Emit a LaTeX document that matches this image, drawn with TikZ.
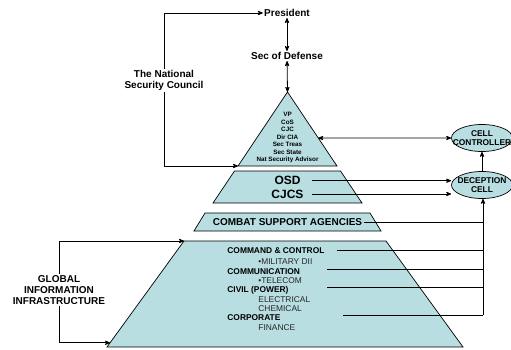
\documentclass[tikz,border=0pt]{standalone}
\usepackage{fontspec}
\setmainfont{Liberation Sans}
\usetikzlibrary{shapes,shapes.geometric,arrows,calc,positioning}

\definecolor{layerfill}{RGB}{184,222,226}

\begin{document}
\begin{tikzpicture}[x=1pt, y=-1pt, >=stealth', line width=0.8pt,
    layer/.style={draw=black, fill=layerfill, line width=0.7pt},
    lbl/.style={font=\bfseries\fontsize{10}{11}\selectfont, align=center, inner sep=1pt},
    big/.style={font=\bfseries\fontsize{12}{13}\selectfont, inner sep=1pt, minimum width=48pt},
    top/.style={font=\bfseries\fontsize{6.3}{7.5}\selectfont, align=center, inner sep=0pt},
    head/.style={font=\bfseries\fontsize{8.4}{9.3}\selectfont, anchor=west, inner sep=0pt},
    item/.style={font=\fontsize{8.4}{9.3}\selectfont, anchor=west, inner sep=0pt, text=black!85},
    cell/.style={ellipse, draw=black, fill=layerfill, line width=0.7pt,
        minimum width=61pt, minimum height=27pt, inner sep=0pt},
    celltext/.style={font=\bfseries\fontsize{8.4}{9}\selectfont, align=center, inner sep=0pt}]
    \useasboundingbox (0,0) rectangle (511,350);

    % pyramid layers
    \filldraw[layer] (287.5,92) coordinate (apex) -- (337,166) coordinate (triR)
        -- (238,166) coordinate (triL) -- cycle;
    \filldraw[layer] (234.5,171) -- (340.5,171) -- (362,203) -- (213,203) -- cycle;
    \filldraw[layer] (205,213) -- (370,213) -- (381,231) -- (194,231) -- cycle;
    \filldraw[layer] (184,241) coordinate (baseTL) -- (386,241) -- (463,347)
        -- (107,347) coordinate (baseBL) -- cycle;
    \path (apex) -- (triR) coordinate[pos=0.622] (triDir);
    \path (baseBL) -- (baseTL) coordinate[pos=0.04] (baseIn);

    % top of the chain
    \node [lbl] (pres) at (287,13) {President};
    \node [lbl] (secdef) at (287,56) {Sec of Defense};
    \node [lbl] (nsc) at (164,80.5) {The National\\Security Council};
    \node [top] (council) at (287.5,137.5)
        {VP\\CoS\\CJC\\Dir CIA\\Sec Treas\\Sec State\\Nat Security Advisor};

    % layers below
    \node [big] (osd) at (287.5,180.7) {OSD};
    \node [big, below=2pt of osd] (cjcs) {CJCS};
    \node [lbl] (csa) at (287.5,222) {COMBAT SUPPORT AGENCIES};
    \node [lbl] (gii) at (59,290) {GLOBAL\\INFORMATION\\INFRASTRUCTURE};

    \node [head] (cc) at (227,251) {COMMAND \& CONTROL};
    \node [item] (mil) at (258,262) {•MILITARY DII};
    \node [head] (comm) at (227,271.3) {COMMUNICATION};
    \node [item] (tel) at (258,280.7) {•TELECOM};
    \node [head] (civil) at (227,290.3) {CIVIL (POWER)};
    \node [item] (elec) at (258,299.3) {ELECTRICAL};
    \node [item] (chem) at (258,308.3) {CHEMICAL};
    \node [head] (corp) at (227,317.3) {CORPORATE};
    \node [item] (fin) at (258,327.3) {FINANCE};

    % cells
    \node [cell] (ctrl) at (482,138) {};
    \node [celltext] at (ctrl) {CELL\\CONTROLLER};
    \node [cell] (dcell) at (482,185) {};
    \node [celltext] at (dcell) {DECEPTION\\CELL};

    % line starts
    \coordinate (ccout) at (337,250.7);
    \coordinate (commout) at (327,269);
    \coordinate (civout) at (327,287.7);
    \coordinate (corpout) at (343,315);
    \coordinate (bus) at (483,315);

    \draw[<->] (pres) -- (secdef);
    \draw[<->] (secdef) -- (apex);
    \draw[->] (nsc.north) |- (pres.west);
    \draw[->] (nsc.south) |- (triL);
    \draw[<->] (triDir) -- (ctrl.west);
    \draw[->] (osd.east) -- (osd.east -| dcell.west);
    \draw[->] (cjcs.east) -- (cjcs.east -| dcell.west);
    \draw[->] (dcell) -- (ctrl);
    \draw[->] (bus) -- (dcell.south -| bus);
    \draw (csa.east) -- (csa.east -| bus);
    \draw (ccout) -- (ccout -| bus);
    \draw (commout) -- (commout -| bus);
    \draw (civout) -- (civout -| bus);
    \draw (corpout) -- (bus);
    \draw[->] (gii.north) |- (baseTL);
    \draw[->] (gii.south) |- (baseIn);
\end{tikzpicture}
\end{document}
